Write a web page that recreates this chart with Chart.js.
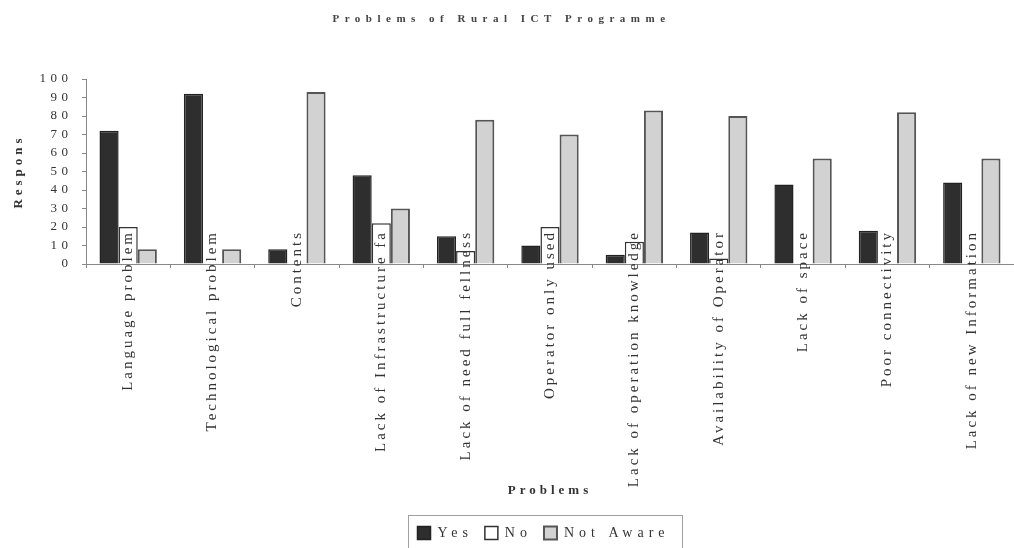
<!DOCTYPE html>
<html><head><meta charset="utf-8">
<script src="https://cdn.jsdelivr.net/npm/chart.js@4.4.1/dist/chart.umd.min.js"></script>
<style>html,body{margin:0;padding:0;background:#fff;}</style>
</head><body>
<canvas id="c" width="1014" height="548"></canvas>
<script>
const categories = ["Language problem","Technological problem","Contents","Lack of Infrastructure fa","Lack of need full fellness","Operator only used","Lack of operation knowledge","Availability of Operator","Lack of space","Poor connectivity","Lack of new Information"];
const yesValues = [72, 92, 8, 48, 15, 10, 5, 17, 43, 18, 44];
const noValues = [20, 0, 0, 22, 7, 20, 12, 3, 0, 0, 0];
const notAwareValues = [8, 8, 93, 30, 78, 70, 83, 80, 57, 82, 57];
const seriesNames = ["Yes", "No", "Not Aware"];
const chartTitle = "Problems of Rural ICT Programme";
const xTitle = "Problems";
const yTitle = "Respons";

// letter spacing per font (scanned Excel look)
const spacing = {'b11': 5.5, '13': 4.5, '15': 3, '14': 5, 'b13': 4};
const P = CanvasRenderingContext2D.prototype;
const oFill = P.fillText, oMeasure = P.measureText;
function applySpacing(ctx) {
  const f = ctx.font;
  const m = /(\d+(?:\.\d+)?)px/.exec(f);
  const k = (/bold|700/.test(f) ? 'b' : '') + (m ? parseFloat(m[1]) : '');
  if ('letterSpacing' in ctx) ctx.letterSpacing = (spacing[k] || 0) + 'px';
}
P.fillText = function () { applySpacing(this); return oFill.apply(this, arguments); };
P.measureText = function () { applySpacing(this); return oMeasure.apply(this, arguments); };

const FAM = "Liberation Serif";
const shiftPlugin = {
  id: 'shift',
  afterLayout(chart) {
    const t = chart.titleBlock;
    if (t) { t.left -= 7; t.right -= 7; }
    const l = chart.legend;
    if (l) { l.left += 35; l.right += 35; l.top += 2; l.bottom += 2; }
  },
  afterDraw(chart) {
    const l = chart.legend;
    if (!l || !l.lineWidths) return;
    const pad = 12;
    const cx = (l.left + l.right) / 2;
    const w = l.lineWidths[0] - pad;
    const start = cx - w / 2;
    const ctx = chart.ctx;
    ctx.save();
    ctx.strokeStyle = '#a0a0a0';
    ctx.lineWidth = 1;
    ctx.strokeRect(Math.round(start - 9) + 0.5, Math.round(l.top + 1) + 0.5, Math.round(w + 22), 80);
    ctx.restore();
  }
};

new Chart(document.getElementById('c'), {
  type: 'bar',
  data: {
    labels: categories,
    datasets: [
      { label: seriesNames[0], data: yesValues, backgroundColor: '#2e2e2e', borderColor: '#222', borderWidth: 1.5 },
      { label: seriesNames[1], data: noValues, backgroundColor: '#ffffff', borderColor: '#333', borderWidth: 1.5 },
      { label: seriesNames[2], data: notAwareValues, backgroundColor: '#d2d2d2', borderColor: '#555', borderWidth: 2 }
    ]
  },
  options: {
    responsive: false,
    animation: false,
    devicePixelRatio: 1,
    categoryPercentage: 0.68,
    barPercentage: 1.0,
    layout: { padding: { top: 0, left: 0, right: -3, bottom: 0 } },
    plugins: {
      title: { display: true, text: chartTitle, color: '#444', font: { family: FAM, size: 11, weight: 'bold' }, padding: { top: 13, bottom: 52.8 } },
      legend: {
        position: 'bottom',
        labels: { color: '#333', font: { family: FAM, size: 14 }, boxWidth: 13, boxHeight: 13, padding: 12 }
      },
      tooltip: { enabled: false }
    },
    scales: {
      x: {
        offset: true,
        grid: { display: true, drawOnChartArea: false, drawTicks: true, tickLength: 4, color: '#888', offset: true },
        border: { display: true, color: '#888', width: 1 },
        ticks: { color: '#333', font: { family: FAM, size: 15 }, minRotation: 90, maxRotation: 90, autoSkip: false, padding: -38, z: 1 },
        title: { display: true, text: xTitle, color: '#333', font: { family: FAM, size: 13, weight: 'bold' }, padding: { top: 0, bottom: 14 } },
        afterFit(s) { s.height = 248; s._computeLabelArea = function () { return undefined; }; }
      },
      y: {
        min: 0, max: 100,
        grid: { display: true, drawOnChartArea: false, drawTicks: true, tickLength: 4, color: '#888' },
        border: { display: true, color: '#888', width: 1 },
        ticks: { stepSize: 10, autoSkip: false, color: '#333', font: { family: FAM, size: 13 }, padding: 9.5 },
        title: { display: true, text: yTitle, color: '#333', font: { family: FAM, size: 13, weight: 'bold' }, padding: { top: 11, bottom: 0 } },
        afterFit(s) { s.width = 86; }
      }
    }
  },
  plugins: [shiftPlugin]
});
</script>
</body></html>
